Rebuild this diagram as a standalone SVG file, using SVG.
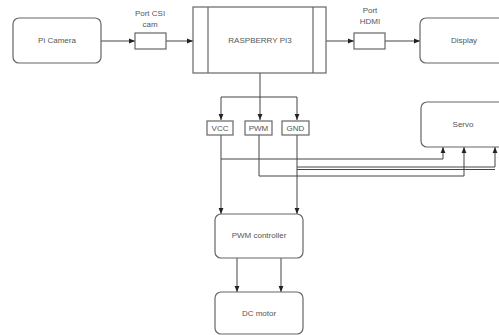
<svg xmlns="http://www.w3.org/2000/svg" width="499" height="335" viewBox="0 0 499 335">
<style>
.box{fill:#fff;stroke:#666;stroke-width:1.2}
.t{font-family:"Liberation Sans",Arial,sans-serif;font-size:8px;fill:#555;text-anchor:middle;dominant-baseline:middle}
.c{fill:none;stroke:#444;stroke-width:1}
</style>
<defs>
<marker id="a" viewBox="0 0 10 10" refX="10" refY="5" markerWidth="6" markerHeight="6" orient="auto" markerUnits="userSpaceOnUse">
<path d="M0,1 L10,5 L0,9 Z" fill="#222"/>
</marker>
</defs>
<rect width="499" height="335" fill="#fff"/>
<g id="connectors">
<line class="c" x1="101" y1="41" x2="135" y2="41" marker-end="url(#a)"/>
<line class="c" x1="166" y1="41" x2="193" y2="41" marker-end="url(#a)"/>
<line class="c" x1="326" y1="41" x2="354" y2="41" marker-end="url(#a)"/>
<line class="c" x1="385" y1="41" x2="420" y2="41" marker-end="url(#a)"/>
<line class="c" x1="260" y1="73" x2="260" y2="120" marker-end="url(#a)"/>
<polyline class="c" points="260,97 221,97 221,120" marker-end="url(#a)"/>
<polyline class="c" points="260,97 297,97 297,120" marker-end="url(#a)"/>
<line class="c" x1="221" y1="135" x2="221" y2="214" marker-end="url(#a)"/>
<line class="c" x1="297" y1="135" x2="297" y2="214" marker-end="url(#a)"/>
<polyline class="c" points="221,159 443,159 443,147" marker-end="url(#a)"/>
<polyline class="c" points="259,135 259,176 464,176 464,147" marker-end="url(#a)"/>
<polyline class="c" points="297,167 495,167 495,147" marker-end="url(#a)"/>
<line class="c" x1="297" y1="169.5" x2="495" y2="169.5"/>
<line class="c" x1="237" y1="258" x2="237" y2="292" marker-end="url(#a)"/>
<line class="c" x1="281" y1="258" x2="281" y2="292" marker-end="url(#a)"/>
</g>
<g id="pi-camera"><rect class="box" x="13" y="18" width="88" height="45" rx="6"/><text class="t" x="57" y="41">Pi Camera</text></g>
<g id="port-csi"><rect class="box" x="135" y="33" width="31" height="16"/><text class="t" x="150" y="14">Port CSI</text><text class="t" x="150" y="25">cam</text></g>
<g id="raspberry"><rect class="box" x="193" y="7" width="133" height="66"/><line class="box" x1="208" y1="7" x2="208" y2="73"/><line class="box" x1="313" y1="7" x2="313" y2="73"/><text class="t" x="260" y="41">RASPBERRY PI3</text></g>
<g id="port-hdmi"><rect class="box" x="354" y="33" width="31" height="16"/><text class="t" x="370" y="11">Port</text><text class="t" x="370" y="22">HDMI</text></g>
<g id="display"><rect class="box" x="420" y="18" width="90" height="45" rx="6"/><text class="t" x="464" y="41">Display</text></g>
<g id="vcc"><rect class="box" x="207" y="121" width="26" height="14"/><text class="t" x="220" y="128.5">VCC</text></g>
<g id="pwm"><rect class="box" x="245" y="121" width="27" height="14"/><text class="t" x="258.5" y="128.5">PWM</text></g>
<g id="gnd"><rect class="box" x="282" y="121" width="27" height="14"/><text class="t" x="295.5" y="128.5">GND</text></g>
<g id="servo"><rect class="box" x="421" y="102" width="90" height="45" rx="6"/><text class="t" x="463" y="125">Servo</text></g>
<g id="pwm-controller"><rect class="box" x="215" y="214" width="88" height="44" rx="6"/><text class="t" x="259" y="236">PWM controller</text></g>
<g id="dc-motor"><rect class="box" x="215" y="292" width="88" height="42" rx="6"/><text class="t" x="259" y="314">DC motor</text></g>
</svg>
